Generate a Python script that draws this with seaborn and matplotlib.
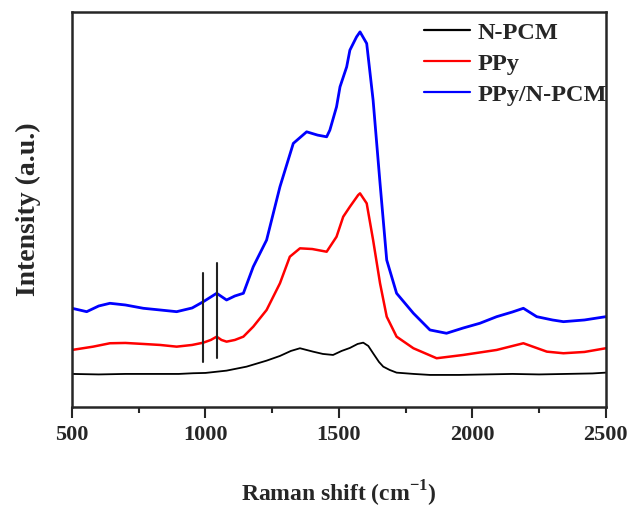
import numpy as np
import pandas as pd
import matplotlib
matplotlib.use("Agg")
import matplotlib.pyplot as plt
import seaborn as sns
from matplotlib.ticker import MultipleLocator

# values (intensity in arbitrary units)
npcm_x = [500, 600, 700, 800, 900, 954, 1000, 1079, 1154, 1229, 1279, 1320, 1354, 1403,
          1440, 1478, 1510, 1541, 1570, 1591, 1610, 1628, 1650, 1666, 1690, 1716, 1780,
          1841, 1950, 2050, 2150, 2250, 2350, 2450, 2500]
npcm_y = [33, 32.5, 33, 33, 33, 33.7, 34, 36.3, 40.3, 46.3, 51, 56, 58.7, 55.3,
          53, 52, 56, 59, 63, 64.3, 61, 53.7, 45, 40.3, 37, 34.3, 33,
          32, 32, 32.5, 33, 32.5, 33, 33.5, 34.3]

ppy_x = [500, 579, 642, 700, 767, 830, 892, 950, 992, 1020, 1042, 1060, 1079, 1110,
         1142, 1179, 1229, 1279, 1316, 1354, 1400, 1454, 1491, 1516, 1541, 1572, 1579,
         1604, 1628, 1654, 1679, 1716, 1779, 1866, 1966, 2091, 2191, 2279, 2341, 2420, 2500]
ppy_y = [57, 60.3, 63.7, 64, 63, 62, 60.3, 62, 64.3, 67, 70.3, 67, 65.3, 67,
         70.3, 80.3, 97, 123.7, 150.3, 158.7, 158, 155.3, 170.3, 190.3, 200.3, 212, 213.7,
         203.7, 167, 123.7, 90.3, 70.3, 58.7, 48.7, 52, 57, 63.7, 55.3, 53.7, 55, 58.7]

comp_x = [500, 555, 600, 642, 700, 767, 830, 892, 950, 992, 1042, 1079, 1110, 1142,
          1179, 1229, 1279, 1329, 1379, 1420, 1454, 1466, 1491, 1504, 1529, 1541, 1566,
          1579, 1604, 1628, 1654, 1679, 1716, 1779, 1841, 1903, 1966, 2028, 2091, 2150,
          2191, 2241, 2300, 2341, 2420, 2500]
comp_y = [98.7, 95.3, 101, 103.7, 102, 98.7, 97, 95.3, 99, 105.3, 113.7, 107, 111, 113.7,
          140.3, 167, 220.3, 263.7, 275.3, 272, 270.3, 277, 300.3, 320.3, 340.3, 357, 370.3,
          375.3, 363.7, 307, 223.7, 147, 113.7, 93.7, 77, 73.7, 79, 83.7, 90.3, 95,
          98.7, 90.3, 87, 85.3, 87, 90.3]

# marker lines near 1000 cm-1
mark_x = [992, 1042]
mark_lo = [45, 49]
mark_hi = [134, 144]

names = ["N-PCM", "PPy", "PPy/N-PCM"]
colors = ["black", "red", "blue"]
widths = [1.3, 1.8, 2.0]

df = pd.concat([
    pd.DataFrame({"shift": npcm_x, "intensity": npcm_y, "sample": names[0]}),
    pd.DataFrame({"shift": ppy_x, "intensity": ppy_y, "sample": names[1]}),
    pd.DataFrame({"shift": comp_x, "intensity": comp_y, "sample": names[2]}),
])

sns.set_style("ticks")
plt.rcParams["font.family"] = ["Liberation Serif", "DejaVu Serif"]
plt.rcParams["font.weight"] = "bold"
plt.rcParams["mathtext.fontset"] = "custom"
plt.rcParams["mathtext.rm"] = "Liberation Serif"
plt.rcParams["mathtext.bf"] = "Liberation Serif:bold"

fig = plt.figure(figsize=(6.34, 5.08), dpi=100)
ax = fig.add_axes([0.1136, 0.199, 0.842, 0.777])

sns.lineplot(data=df, x="shift", y="intensity", hue="sample", hue_order=names,
             palette=colors, linewidth=1.8, ax=ax, sort=False, estimator=None)
for line, w in zip(ax.get_lines()[:3], widths):
    line.set_linewidth(w)

for x, lo, hi in zip(mark_x, mark_lo, mark_hi):
    ax.plot([x, x], [lo, hi], color="#222222", linewidth=1.5)

ax.set_xlim(500, 2500)
ax.set_ylim(0, 395)
ax.set_yticks([])
ax.xaxis.set_major_locator(MultipleLocator(500))
ax.xaxis.set_minor_locator(MultipleLocator(250))
ax.tick_params(axis="x", which="major", length=8, width=1.5, labelsize=16, pad=5)
ax.tick_params(axis="x", which="minor", length=4, width=1.5)
for lab in ax.get_xticklabels():
    lab.set_fontweight("bold")
for sp in ax.spines.values():
    sp.set_linewidth(1.8)

ax.set_xlabel("Raman shift (cm$^{\\mathregular{-1}}$)", fontsize=17, fontweight="bold", labelpad=24)
ax.set_ylabel("Intensity (a.u.)", fontsize=20, fontweight="bold", labelpad=22)

leg = ax.legend(loc="upper right", bbox_to_anchor=(1.018, 0.998), frameon=False,
                fontsize=17.5, handlelength=1.9, handletextpad=0.3, labelspacing=0.38,
                borderaxespad=0.0, borderpad=0.35)
for t in leg.get_texts():
    t.set_fontweight("bold")
for h in leg.get_lines():
    h.set_linewidth(1.6)

fig.savefig("out.png", dpi=100)
